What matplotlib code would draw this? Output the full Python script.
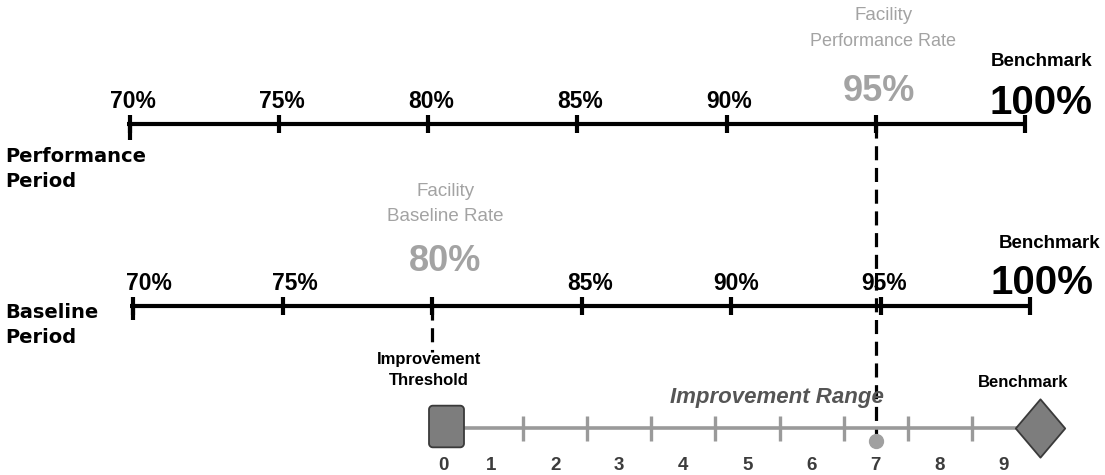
import numpy as np
import matplotlib.pyplot as plt
from matplotlib.path import Path

W, H = 1105, 475

# data
pct_ticks = [70, 75, 80, 85, 90, 95, 100]
perf_rate = 95
base_rate = 80
benchmark = 100
imp_levels = list(range(10))      # improvement points 0..9
imp_bounds = [1.5, 2.5, 3.5, 4.5, 5.5, 6.5, 7.5, 8.5]
imp_score = 7

ARIAL = ['Liberation Sans', 'DejaVu Sans']
WIDE = ['DejaVu Sans']
LIGHT = '#a3a3a3'
DASH = (0, (4.4, 2.4))

fig = plt.figure(figsize=(W / 100, H / 100), dpi=100)


def scaled_axes(x0_px, px_per_unit, u0):
    """full-figure axes, y in pixels, x in data units"""
    ax = fig.add_axes([0, 0, 1, 1])
    ax.set_xlim(u0 - x0_px / px_per_unit, u0 + (W - x0_px) / px_per_unit)
    ax.set_ylim(H, 0)
    ax.axis('off')
    ax.patch.set_alpha(0)
    return ax


def left_label(y, s):
    fig.text(5 / W, 1 - y / H, s, ha='left', va='baseline', fontsize=14,
             fontweight='bold', family=WIDE)


ax_p = scaled_axes(130, 29.83, 70)     # performance period scale
ax_b = scaled_axes(133, 29.9, 70)      # baseline period scale
ax_i = scaled_axes(427, 64.1, 0)       # improvement points scale

# ---- performance period
y_p = 124
ax_p.hlines(y_p, 69.9, benchmark, color='black', lw=3)
ax_p.vlines(pct_ticks, y_p - 9, y_p + 9, color='black', lw=3)
ax_p.vlines(pct_ticks[0], y_p, y_p + 16, color='black', lw=3)
for p in pct_ticks[:-2]:
    ax_p.text(p + 0.1, 108, f"{p}%", ha='center', va='baseline', fontsize=16.5,
              fontweight='bold', family=ARIAL)
ax_p.text(perf_rate + 0.25, 20, "Facility", ha='center', va='baseline', fontsize=13.5,
          color=LIGHT, family=ARIAL)
ax_p.text(perf_rate + 0.25, 46, "Performance Rate", ha='center', va='baseline', fontsize=13,
          color=LIGHT, family=ARIAL)
ax_p.text(perf_rate + 0.1, 101, f"{perf_rate}%", ha='center', va='baseline', fontsize=26,
          fontweight='bold', color=LIGHT, family=ARIAL)
ax_p.text(benchmark + 0.55, 66, "Benchmark", ha='center', va='baseline', fontsize=13.5,
          fontweight='bold', family=ARIAL)
ax_p.text(benchmark + 0.55, 114, f"{benchmark}%", ha='center', va='baseline', fontsize=29,
          fontweight='bold', family=ARIAL)
left_label(162, "Performance")
left_label(187, "Period")

# dashed drop from performance rate to improvement score
ax_p.vlines(perf_rate, y_p, 438, color='black', lw=2.3, linestyles=DASH)

# ---- baseline period
y_b = 306
ax_b.hlines(y_b, 69.9, benchmark, color='black', lw=3)
ax_b.vlines(pct_ticks, y_b - 9, y_b + 9, color='black', lw=3)
ax_b.vlines(pct_ticks[0], y_b, y_b + 14, color='black', lw=3)
base_dx = [16, 12, 0, 9, 5, 4, 0]
for p, dx in zip(pct_ticks, base_dx):
    if p in (base_rate, benchmark):
        continue
    ax_b.annotate(f"{p}%", (p, 290), xytext=(dx, 0), textcoords='offset pixels',
                  ha='center', va='baseline', fontsize=16.5, fontweight='bold', family=ARIAL)
ax_b.text(base_rate + 0.45, 196, "Facility", ha='center', va='baseline', fontsize=13.5,
          color=LIGHT, family=ARIAL)
ax_b.text(base_rate + 0.45, 221, "Baseline Rate", ha='center', va='baseline', fontsize=13.5,
          color=LIGHT, family=ARIAL)
ax_b.text(base_rate + 0.45, 271, f"{base_rate}%", ha='center', va='baseline', fontsize=26,
          fontweight='bold', color=LIGHT, family=ARIAL)
ax_b.text(benchmark + 0.65, 248, "Benchmark", ha='center', va='baseline', fontsize=13.5,
          fontweight='bold', family=ARIAL)
ax_b.text(benchmark + 0.4, 294, f"{benchmark}%", ha='center', va='baseline', fontsize=29,
          fontweight='bold', family=ARIAL)
left_label(318, "Baseline")
left_label(343, "Period")

ax_b.vlines(base_rate, y_b, 352, color='black', lw=2.3, linestyles=DASH)
ax_b.text(base_rate - 0.1, 364, "Improvement", ha='center', va='baseline', fontsize=12,
          fontweight='bold', family=ARIAL)
ax_b.text(base_rate - 0.1, 385, "Threshold", ha='center', va='baseline', fontsize=12,
          fontweight='bold', family=ARIAL)

# ---- improvement range
y_i = 428
thr_pos, bm_pos = 0.3, 9.56
ax_i.hlines(y_i, thr_pos, bm_pos, color='#9a9a9a', lw=2.6)
ax_i.vlines(imp_bounds, y_i - 12, y_i + 13, color='#9a9a9a', lw=2.4)

# rounded-rectangle marker for the threshold, diamond for the benchmark
t = np.linspace(0, np.pi / 2, 8)
r, hw, hh = 0.09, 0.42, 0.5
corners = [(hw - r, hh - r, 0), (-hw + r, hh - r, 1), (-hw + r, -hh + r, 2), (hw - r, -hh + r, 3)]
verts = []
for cx, cy, q in corners:
    a = t + q * np.pi / 2
    verts += list(zip(cx + r * np.cos(a), cy + r * np.sin(a)))
verts.append(verts[0])
rrect = Path(verts, closed=True)
diamond = Path([(0, 0.59), (-0.5, 0), (0, -0.59), (0.5, 0), (0, 0.59)], closed=True)

ax_i.plot(thr_pos, y_i - 2, marker=rrect, markersize=30, color='#7d7d7d',
          markeredgecolor='#3a3a3a', markeredgewidth=1.3)
ax_i.plot(bm_pos, y_i, marker=diamond, markersize=42, color='#7d7d7d',
          markeredgecolor='#3a3a3a', markeredgewidth=1.3)
ax_i.plot(imp_score, 441, 'o', markersize=10, color='#a0a0a0')

ax_i.text(5.46, 403, "Improvement Range", ha='center', va='baseline', fontsize=16,
          fontweight='bold', style='italic', color='#555555', family=ARIAL)
ax_i.text(9.3, 387, "Benchmark", ha='center', va='baseline', fontsize=12,
          fontweight='bold', family=ARIAL)
for k in imp_levels:
    xk = thr_pos - 0.05 if k == 0 else k
    ax_i.text(xk, 470, str(k), ha='center', va='baseline', fontsize=13.5,
              fontweight='bold', color='#3c3c3c', family=ARIAL)

fig.savefig("out.png", dpi=100)
